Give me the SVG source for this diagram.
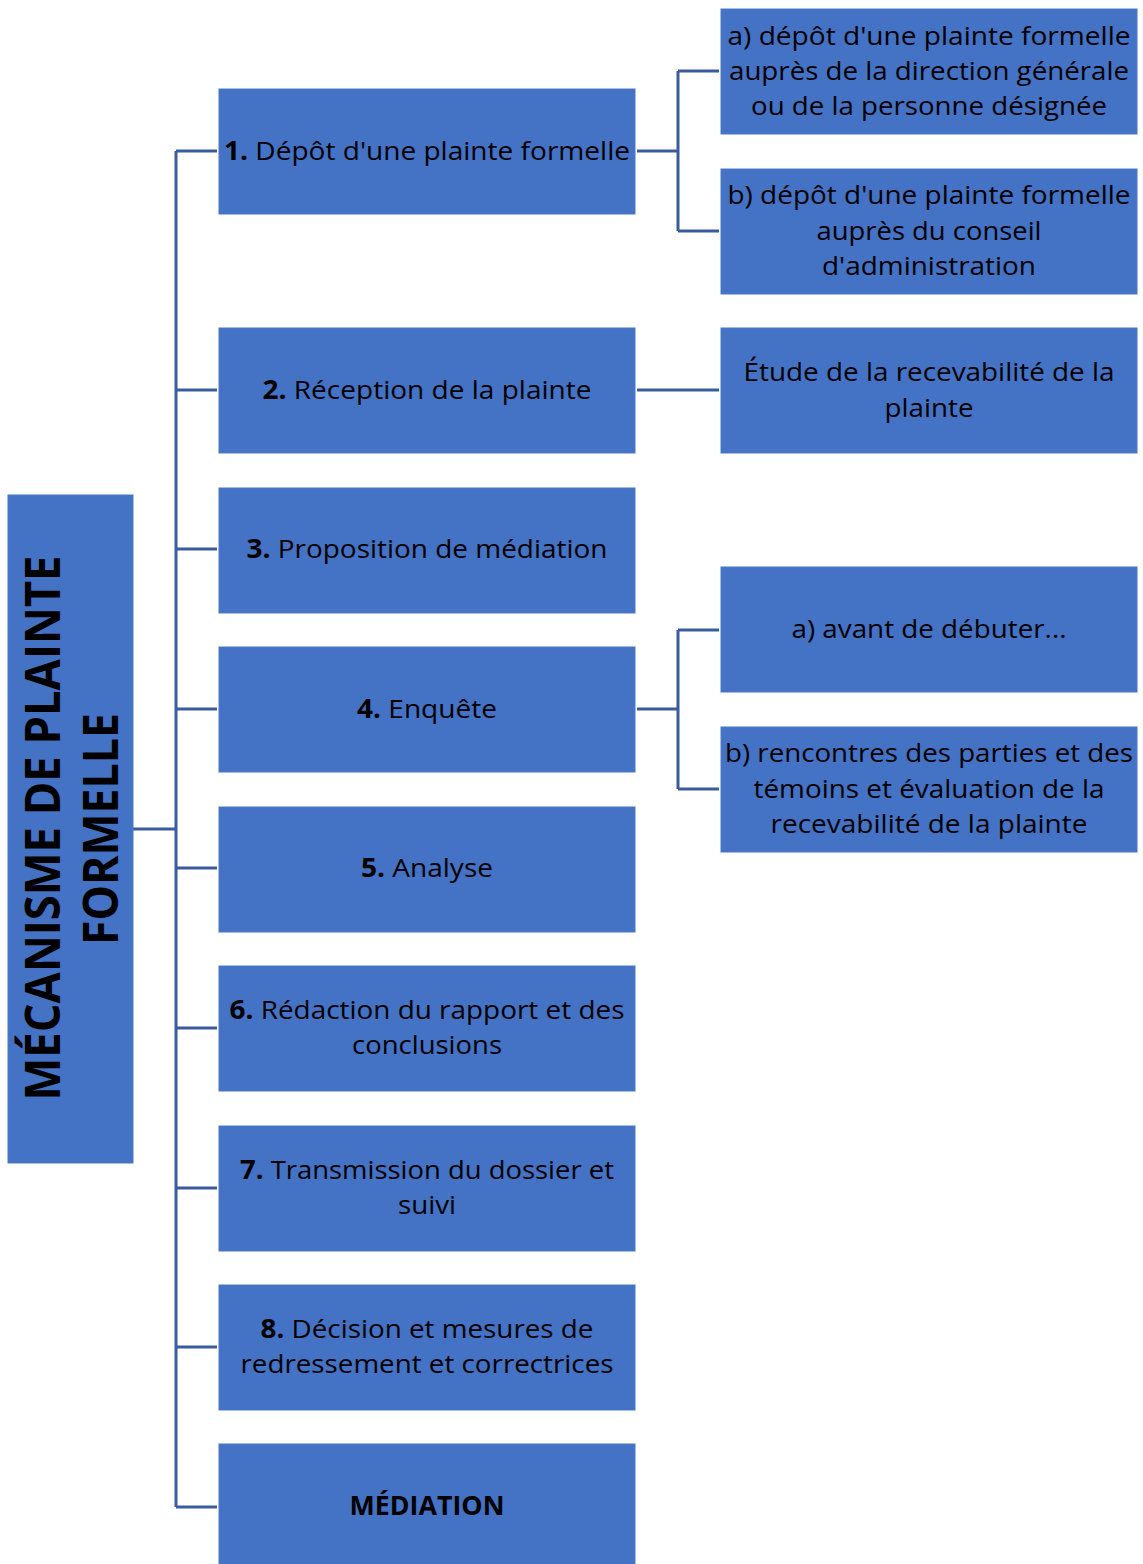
<svg xmlns="http://www.w3.org/2000/svg" width="1143" height="1564" viewBox="0 0 1143 1564">
<style>
.box{fill:#4472C4;stroke:#4A78C8;stroke-width:1}
.t{font-family:"Open Sans","Noto Sans","Liberation Sans",sans-serif;font-size:26px;fill:#000;text-anchor:middle}
.b{font-weight:bold}
.v{font-family:"Open Sans","Noto Sans","Liberation Sans",sans-serif;font-size:48px;font-weight:bold;fill:#000;text-anchor:middle}
.c{fill:none;stroke:#3A5C9E;stroke-width:3}
</style>
<rect width="1143" height="1564" fill="#fff"/>
<g id="connectors">
<path class="c" d="M133,829 H176 M176,151 V1507 M176,151 H217 M176,390 H217 M176,549 H217 M176,709 H217 M176,868 H217 M176,1028 H217 M176,1188 H217 M176,1347 H217 M176,1507 H217"/>
<path class="c" d="M637,151 H678 M678,71 V231 M678,71 H719 M678,231 H719"/>
<path class="c" d="M637,390 H719"/>
<path class="c" d="M637,709 H678 M678,630 V789 M678,630 H719 M678,789 H719"/>
</g>
<g id="root">
<rect class="box" x="8" y="495" width="125" height="668"/>
<text class="v" transform="translate(60,828) rotate(-90)" textLength="545" lengthAdjust="spacingAndGlyphs">MÉCANISME DE PLAINTE</text>
<text class="v" transform="translate(118,829) rotate(-90)" textLength="232" lengthAdjust="spacingAndGlyphs">FORMELLE</text>
</g>
<g id="n1">
<rect class="box" x="219" y="89" width="416" height="125"/>
<text class="t" x="427" y="160" textLength="406" lengthAdjust="spacingAndGlyphs"><tspan class="b">1.</tspan> Dépôt d'une plainte formelle</text>
</g>
<g id="n2">
<rect class="box" x="219" y="328" width="416" height="125"/>
<text class="t" x="427" y="399" textLength="329" lengthAdjust="spacingAndGlyphs"><tspan class="b">2.</tspan> Réception de la plainte</text>
</g>
<g id="n3">
<rect class="box" x="219" y="488" width="416" height="125"/>
<text class="t" x="427" y="558" textLength="361" lengthAdjust="spacingAndGlyphs"><tspan class="b">3.</tspan> Proposition de médiation</text>
</g>
<g id="n4">
<rect class="box" x="219" y="647" width="416" height="125"/>
<text class="t" x="427" y="718" textLength="140" lengthAdjust="spacingAndGlyphs"><tspan class="b">4.</tspan> Enquête</text>
</g>
<g id="n5">
<rect class="box" x="219" y="807" width="416" height="125"/>
<text class="t" x="427" y="877" textLength="132" lengthAdjust="spacingAndGlyphs"><tspan class="b">5.</tspan> Analyse</text>
</g>
<g id="n6">
<rect class="box" x="219" y="966" width="416" height="125"/>
<text class="t" x="427" y="1019" textLength="395" lengthAdjust="spacingAndGlyphs"><tspan class="b">6.</tspan> Rédaction du rapport et des</text>
<text class="t" x="427" y="1054" textLength="150" lengthAdjust="spacingAndGlyphs">conclusions</text>
</g>
<g id="n7">
<rect class="box" x="219" y="1126" width="416" height="125"/>
<text class="t" x="427" y="1179" textLength="374" lengthAdjust="spacingAndGlyphs"><tspan class="b">7.</tspan> Transmission du dossier et</text>
<text class="t" x="427" y="1214" textLength="58" lengthAdjust="spacingAndGlyphs">suivi</text>
</g>
<g id="n8">
<rect class="box" x="219" y="1285" width="416" height="125"/>
<text class="t" x="427" y="1338" textLength="333" lengthAdjust="spacingAndGlyphs"><tspan class="b">8.</tspan> Décision et mesures de</text>
<text class="t" x="427" y="1373" textLength="373" lengthAdjust="spacingAndGlyphs">redressement et correctrices</text>
</g>
<g id="n9">
<rect class="box" x="219" y="1444" width="416" height="125"/>
<text class="t b" x="427" y="1515" textLength="155" lengthAdjust="spacingAndGlyphs">MÉDIATION</text>
</g>
<g id="n1a">
<rect class="box" x="721" y="9" width="416" height="125"/>
<text class="t" x="929" y="45" textLength="403" lengthAdjust="spacingAndGlyphs">a) dépôt d'une plainte formelle</text>
<text class="t" x="929" y="80" textLength="400" lengthAdjust="spacingAndGlyphs">auprès de la direction générale</text>
<text class="t" x="929" y="115" textLength="356" lengthAdjust="spacingAndGlyphs">ou de la personne désignée</text>
</g>
<g id="n1b">
<rect class="box" x="721" y="169" width="416" height="125"/>
<text class="t" x="929" y="204" textLength="403" lengthAdjust="spacingAndGlyphs">b) dépôt d'une plainte formelle</text>
<text class="t" x="929" y="240" textLength="225" lengthAdjust="spacingAndGlyphs">auprès du conseil</text>
<text class="t" x="929" y="275" textLength="214" lengthAdjust="spacingAndGlyphs">d'administration</text>
</g>
<g id="n2a">
<rect class="box" x="721" y="328" width="416" height="125"/>
<text class="t" x="929" y="381" textLength="371" lengthAdjust="spacingAndGlyphs">Étude de la recevabilité de la</text>
<text class="t" x="929" y="417" textLength="89" lengthAdjust="spacingAndGlyphs">plainte</text>
</g>
<g id="n4a">
<rect class="box" x="721" y="567" width="416" height="125"/>
<text class="t" x="929" y="638" textLength="275" lengthAdjust="spacingAndGlyphs">a) avant de débuter...</text>
</g>
<g id="n4b">
<rect class="box" x="721" y="727" width="416" height="125"/>
<text class="t" x="929" y="762" textLength="408" lengthAdjust="spacingAndGlyphs">b) rencontres des parties et des</text>
<text class="t" x="929" y="798" textLength="351" lengthAdjust="spacingAndGlyphs">témoins et évaluation de la</text>
<text class="t" x="929" y="833" textLength="317" lengthAdjust="spacingAndGlyphs">recevabilité de la plainte</text>
</g>
</svg>
